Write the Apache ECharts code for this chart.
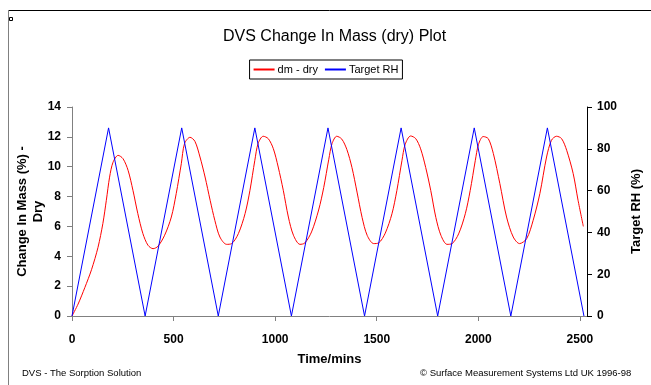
<!DOCTYPE html>
<html>
<head>
<meta charset="utf-8">
<script src="https://cdn.jsdelivr.net/npm/echarts@6/dist/echarts.min.js"></script>
<style>
  html, body { margin: 0; padding: 0; background: #fff; }
  #chart { width: 651px; height: 385px; }
</style>
</head>
<body>
<div id="chart"></div>
<script>
// dm - dry (%) against time (mins)
const dmTime = [0, 30, 63, 96, 128, 152, 169, 185, 202, 227, 251, 276, 300, 324, 349, 374, 399, 423, 456, 489,
  513, 538, 554, 581, 605, 630, 655, 680, 703, 728, 761, 786, 819, 852, 876, 900, 916, 941, 966, 991,
  1015, 1040, 1065, 1090, 1122, 1146, 1179, 1214, 1239, 1264, 1280, 1303, 1328, 1353, 1378, 1403, 1428, 1453, 1485, 1510,
  1542, 1575, 1599, 1624, 1640, 1667, 1692, 1716, 1741, 1766, 1791, 1816, 1846, 1871, 1903, 1936, 1960, 1985, 2001, 2024,
  2049, 2074, 2106, 2139, 2172, 2203, 2238, 2270, 2303, 2336, 2360, 2385, 2410, 2435, 2467, 2491, 2517];
const dmDry = [0, 0.8, 1.9, 3.1, 4.6, 6.2, 7.75, 9.3, 10.3, 10.76, 10.54, 9.76, 8.42, 6.86, 5.52, 4.74, 4.51, 4.67, 5.41, 6.63,
  8.2, 10.2, 11.55, 11.97, 11.7, 10.65, 9.31, 7.75, 6.41, 5.29, 4.8, 4.85, 5.52, 6.86, 8.42, 10.43, 11.55, 12.04, 11.88, 11.21,
  9.98, 8.42, 6.63, 5.41, 4.8, 4.89, 5.63, 7.1, 8.6, 10.5, 11.55, 12.04, 11.85, 11.15, 9.95, 8.3, 6.6, 5.4, 4.85, 4.9,
  5.55, 6.85, 8.4, 10.4, 11.5, 12.06, 11.88, 11.2, 9.95, 8.4, 6.6, 5.4, 4.8, 4.85, 5.5, 6.85, 8.4, 10.4, 11.5, 12.02,
  11.88, 10.88, 8.87, 6.63, 5.29, 4.85, 5.18, 6.41, 8.2, 10.65, 11.77, 12.04, 11.88, 11.1, 9.54, 7.75, 6.0];

// Target RH (%) against time (mins)
const rhTime = [0, 180, 360, 540, 720, 900, 1080, 1260, 1440, 1620, 1800, 1980, 2160, 2340, 2520];
const targetRH = [0, 90, 0, 90, 0, 90, 0, 90, 0, 90, 0, 90, 0, 90, 0];

const leftTicks = { min: 0, max: 14, interval: 2 };
const rightTicks = { min: 0, max: 100, interval: 20 };
const timeTicks = { min: 0, max: 2535, interval: 500 };

const font = 'Liberation Sans, Arial, sans-serif';
const RED = '#ff0000';
const BLUE = '#0000ff';

const chart = echarts.init(document.getElementById('chart'));

const boldLabel = { color: '#000', fontFamily: font, fontSize: 12, fontWeight: 'bold' };

const option = {
  backgroundColor: '#fff',
  animation: false,
  title: {
    text: 'DVS Change In Mass (dry) Plot',
    left: 218,
    top: 24,
    textStyle: { color: '#000', fontFamily: font, fontSize: 16, fontWeight: 'normal' }
  },
  legend: {
    data: ['dm - dry', 'Target RH'],
    left: 'center',
    top: 60,
    itemWidth: 21,
    itemHeight: 10,
    itemGap: 6,
    itemStyle: { opacity: 0 },
    padding: [4, 4, 4, 3],
    borderColor: '#000',
    borderWidth: 1,
    borderRadius: 0,
    textStyle: { color: '#000', fontFamily: font, fontSize: 11, padding: [0, 0, 0, -2] }
  },
  grid: { left: 72, right: 64, top: 107, bottom: 69, outerBoundsMode: 'none' },
  xAxis: {
    type: 'value',
    min: timeTicks.min,
    max: timeTicks.max,
    interval: timeTicks.interval,
    name: 'Time/mins',
    nameLocation: 'middle',
    nameGap: 37,
    nameMoveOverlap: false,
    nameTextStyle: { color: '#000', fontFamily: font, fontSize: 13, fontWeight: 'bold' },
    splitLine: { show: false },
    axisLine: { lineStyle: { color: '#808080', width: 1 } },
    axisTick: { lineStyle: { color: '#808080' }, length: 5 },
    axisLabel: Object.assign({ margin: 18, showMaxLabel: false, formatter: (v) => String(v) }, boldLabel)
  },
  yAxis: [
    {
      type: 'value',
      min: leftTicks.min,
      max: leftTicks.max,
      interval: leftTicks.interval,
      name: 'Change In Mass (%) -\nDry',
      nameLocation: 'middle',
      nameRotate: 90,
      nameGap: 26,
      nameMoveOverlap: false,
      nameTextStyle: { color: '#000', fontFamily: font, fontSize: 13, fontWeight: 'bold', lineHeight: 16 },
      splitLine: { show: false },
      axisLine: { show: true, lineStyle: { color: '#808080', width: 1 } },
      axisTick: { show: true, lineStyle: { color: '#808080' }, length: 5 },
      axisLabel: Object.assign({ margin: 11 }, boldLabel)
    },
    {
      type: 'value',
      position: 'right',
      min: rightTicks.min,
      max: rightTicks.max,
      interval: rightTicks.interval,
      name: 'Target RH (%)',
      nameLocation: 'middle',
      nameRotate: 90,
      nameGap: 43,
      nameMoveOverlap: false,
      nameTextStyle: { color: '#000', fontFamily: font, fontSize: 13, fontWeight: 'bold' },
      splitLine: { show: false },
      axisLine: { show: true, lineStyle: { color: '#000', width: 1 } },
      axisTick: { show: true, lineStyle: { color: '#000' }, length: 5 },
      axisLabel: Object.assign({ margin: 10 }, boldLabel)
    }
  ],
  series: [
    {
      name: 'dm - dry',
      type: 'line',
      yAxisIndex: 0,
      data: dmTime.map((t, i) => [t, dmDry[i]]),
      symbol: 'none',
      smooth: 0.3,
      color: RED,
      lineStyle: { color: RED, width: 1 }
    },
    {
      name: 'Target RH',
      type: 'line',
      yAxisIndex: 1,
      data: rhTime.map((t, i) => [t, targetRH[i]]),
      symbol: 'none',
      color: BLUE,
      lineStyle: { color: BLUE, width: 1 }
    }
  ],
  graphic: [
    // outer chart frame
    { type: 'line', shape: { x1: 8, y1: 10.5, x2: 651, y2: 10.5 }, style: { stroke: '#000', lineWidth: 1 } },
    { type: 'line', shape: { x1: 8.5, y1: 10, x2: 8.5, y2: 385 }, style: { stroke: '#808080', lineWidth: 1 } },
    { type: 'rect', shape: { x: 9.5, y: 17.5, width: 3, height: 3 }, style: { fill: 'none', stroke: '#000', lineWidth: 1 } },
    // footers
    { type: 'text', left: 22, top: 368, style: { text: 'DVS - The Sorption Solution', fill: '#000', font: '9.5px ' + font } },
    { type: 'text', left: 420, top: 368, style: { text: '\u00a9 Surface Measurement Systems Ltd UK 1996-98', fill: '#000', font: '9.5px ' + font } }
  ]
};

chart.setOption(option);
</script>
</body>
</html>
